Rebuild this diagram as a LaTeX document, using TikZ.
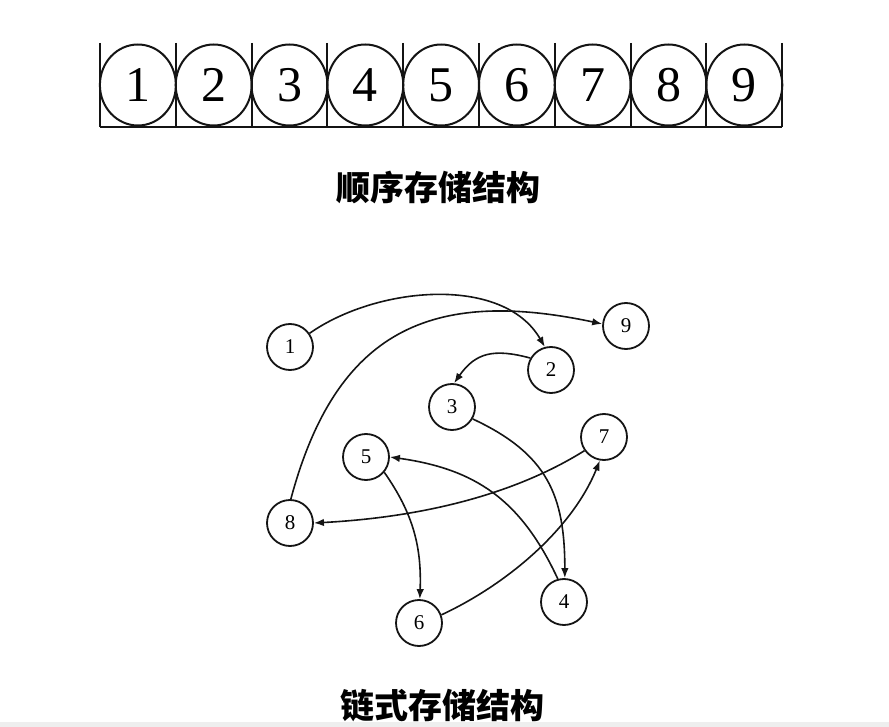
\documentclass[tikz,border=0pt]{standalone}
\usepackage{fontspec}
\setmainfont{Liberation Serif}
\newfontfamily\cjk{Noto Sans CJK SC}
\usetikzlibrary{arrows.meta,shapes.geometric}
\definecolor{inkblack}{RGB}{20,20,20}
\definecolor{edgegray}{RGB}{238,238,238}
\tikzset{
  >={Latex[length=10pt,width=7.5pt]},
  slot/.style={
    ellipse,
    draw=inkblack,
    line width=2pt,
    minimum width=76pt,
    minimum height=81pt,
    inner sep=0pt,
    font=\fontsize{50}{50}\selectfont
  },
  divider/.style={draw=inkblack,line width=2pt},
  item/.style={
    circle,
    draw=inkblack,
    line width=1.8pt,
    minimum size=46pt,
    inner sep=0pt,
    font=\fontsize{21}{21}\selectfont
  },
  link/.style={->,draw=inkblack,line width=1.6pt},
  caption/.style={font=\cjk\bfseries\fontsize{34}{40}\selectfont,text=black}
}

\begin{document}
\begin{tikzpicture}[x=1pt,y=1pt]

  \useasboundingbox (0,0) rectangle (889,-727);
  \fill[edgegray] (0,-722) rectangle (889,-727);

  % sequential storage
  \foreach \i in {1,...,9}
    \node[slot] (cell\i) at ({100+75.8*(\i-0.5)},-85) {\i};
  \foreach \i in {0,...,9}
    \draw[divider] ({100+75.8*\i},-43) -- ({100+75.8*\i},-127);
  \draw[divider] (100,-127) -- (782.2,-127);

  \node[caption] (seqtitle) at (438,-187) {顺序存储结构};

  % linked storage
  \node[item] (n1) at (290,-347) {1};
  \node[item] (n2) at (551,-370) {2};
  \node[item] (n3) at (452,-407) {3};
  \node[item] (n4) at (564,-602) {4};
  \node[item] (n5) at (366,-457) {5};
  \node[item] (n6) at (419,-623) {6};
  \node[item] (n7) at (604,-437) {7};
  \node[item] (n8) at (290,-523) {8};
  \node[item] (n9) at (626,-326) {9};

  \draw[link] (n1.35) to[out=35,in=120,looseness=0.9] (n2.105);
  \draw[link] (n2.150) to[out=165,in=55,looseness=1.2] (n3.85);
  \draw[link] (n3.-30) to[out=-25,in=90,looseness=1.15] (n4.88);
  \draw[link] (n4.105) to[out=115,in=-8,looseness=1.07] (n5.0);
  \draw[link] (n5.-40) to[out=-55,in=88] (n6.88);
  \draw[link] (n6.20) to[out=25,in=-112,looseness=0.85] (n7.-100);
  \draw[link] (n7.215) to[out=212,in=3,looseness=0.85] (n8.0);
  \draw[link] (n8.88) to[out=75,in=168,looseness=1.25] (n9.175);

  \node[caption] (linktitle) at (442,-706) {链式存储结构};

\end{tikzpicture}
\end{document}
